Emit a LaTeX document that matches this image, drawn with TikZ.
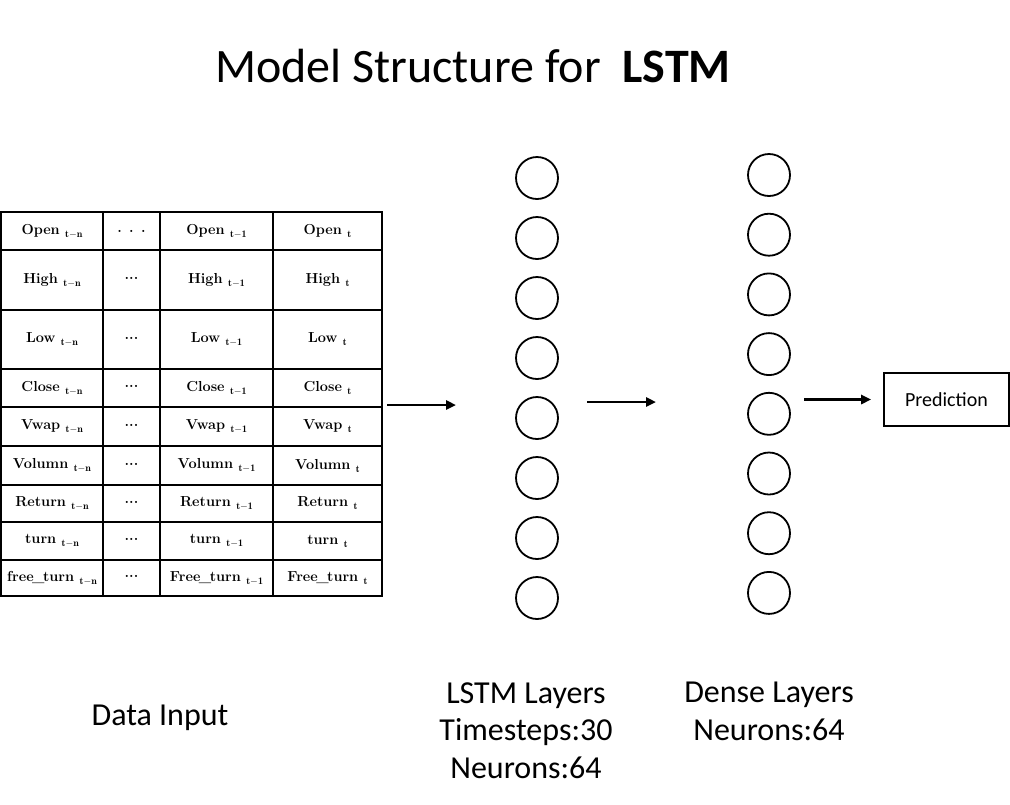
\documentclass[tikz,border=0pt]{standalone}
\usepackage{fontspec}
\newfontfamily\calibri{Carlito}
\usetikzlibrary{arrows.meta}

\newcommand\tsub[1]{\raisebox{-3pt}{\fontsize{10}{10}\selectfont$\mathbf{#1}$}}
\newcommand\usc{\kern-1.5pt\_\kern-1.5pt}

\tikzstyle{cell}=[draw,line width=1.6pt,inner sep=0pt,font=\bfseries\fontsize{14.5}{16}\selectfont]
\tikzstyle{neuron}=[circle,draw,line width=1.8pt,minimum size=42pt,inner sep=0pt]
\tikzstyle{flow}=[line width=2.6pt,-{Triangle[length=10pt,width=9pt]}]
\tikzstyle{lbl}=[font=\calibri\fontsize{32}{37.5}\selectfont,align=center,anchor=base,inner sep=0pt]

\begin{document}
\begin{tikzpicture}[x=1pt,y=-1pt]
        \useasboundingbox (0,0) rectangle (1010,804);
        \draw (473,82) node[lbl,font=\calibri\fontsize{48}{52}\selectfont](title){Model Structure for\ \ \textbf{LSTM}};
        %
        \foreach \i/\yc/\rh/\na/\nb in {1/231/38/Open/Open, 2/280/60/High/High, 3/339.5/59/Low/Low,
                4/388/38/Close/Close, 5/426.5/39/Vwap/Vwap, 6/465.5/39/Volumn/Volumn,
                7/503.5/37/Return/Return, 8/541/38/turn/turn, 9/578/36/free\usc turn/Free\usc turn}{
            \draw (52,\yc)    node[cell,minimum width=102pt,minimum height=\rh pt](c\i a){\na\ \tsub{t{-}n}};
            \draw (131.5,\yc) node[cell,minimum width=57pt,minimum height=\rh pt](c\i b){\ifnum\i=1 . . .\else\raisebox{3pt}{...}\fi};
            \draw (216.5,\yc) node[cell,minimum width=113pt,minimum height=\rh pt](c\i c){\nb\ \tsub{t{-}1}};
            \draw (327.5,\yc) node[cell,minimum width=109pt,minimum height=\rh pt](c\i d){\nb\ \tsub{t}};
        }
        %
        \foreach \i in {1,...,8}{
            \draw (537,118+60*\i) node[neuron](l\i){};
            \draw (769,115.3+59.7*\i) node[neuron](d\i){};
        }
        \draw (946.5,399.5) node[draw,line width=1.6pt,minimum width=125pt,minimum height=53pt,font=\calibri\fontsize{20}{22}\selectfont](pred){Prediction};
        %
        \coordinate (a1) at (387,405); \coordinate (b1) at (456,405);
        \coordinate (a2) at (587,402); \coordinate (b2) at (656,402);
        \coordinate (a3) at (804,399.5);
        \path
            (a1)    edge[flow]                  (b1)
            (a2)    edge[flow]                  (b2)
            (a3)    edge[flow,shorten >=12pt]   (pred.west)
        ;
        %
        \draw (160,725) node[lbl](inlbl){Data Input};
        \draw (526,778) node[lbl](lstmlbl){LSTM Layers\\Timesteps:30\\Neurons:64};
        \draw (769,740) node[lbl](denselbl){Dense Layers\\Neurons:64};
\end{tikzpicture}
\end{document}
